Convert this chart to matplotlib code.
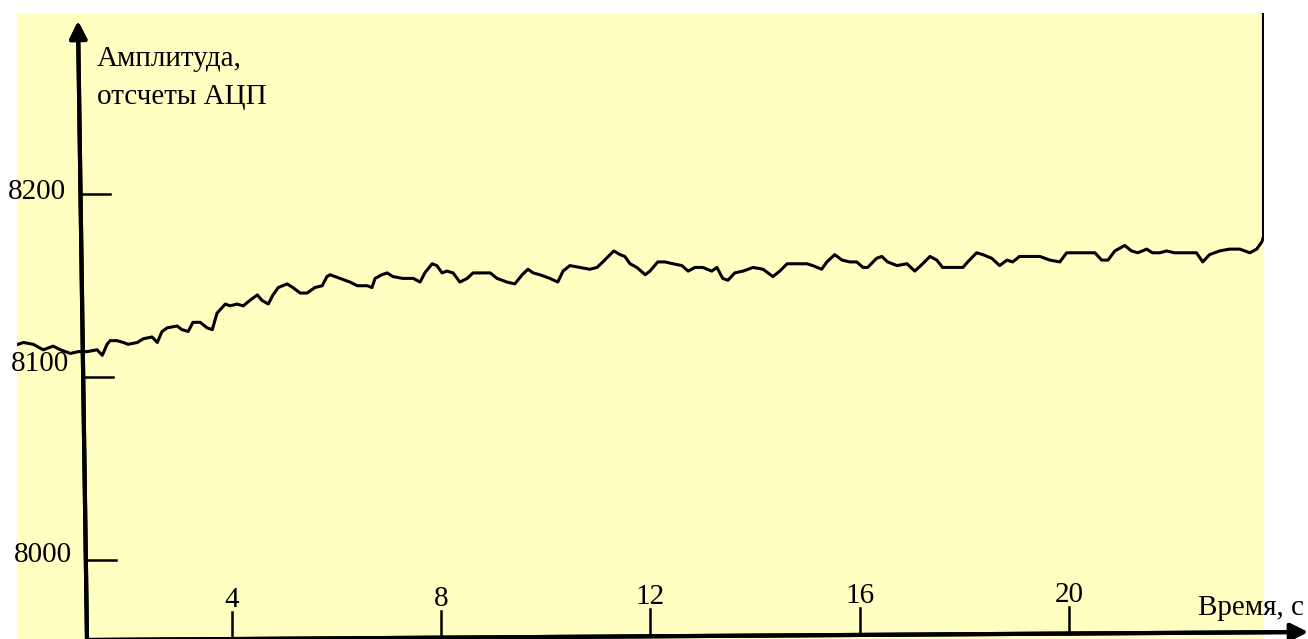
import matplotlib.pyplot as plt
import matplotlib.transforms as mtransforms
from matplotlib.lines import Line2D

plt.rcParams['font.family'] = ['Liberation Serif', 'DejaVu Serif']

# signal: time (s) and amplitude (ADC counts)
time_s = [
    -0.08, 0.02, 0.21, 0.40, 0.59, 0.73, 0.92, 1.07, 1.24, 1.43,
    1.53, 1.62, 1.68, 1.81, 1.93, 2.02, 2.20, 2.31, 2.48, 2.58,
    2.67, 2.77, 2.96, 3.05, 3.17, 3.26, 3.40, 3.53, 3.63, 3.72,
    3.88, 3.97, 4.10, 4.22, 4.35, 4.49, 4.58, 4.70, 4.79, 4.89,
    5.06, 5.17, 5.31, 5.44, 5.59, 5.73, 5.82, 5.88, 6.07, 6.26,
    6.40, 6.59, 6.68, 6.74, 6.87, 6.97, 7.08, 7.27, 7.47, 7.60,
    7.69, 7.83, 7.92, 8.02, 8.11, 8.23, 8.36, 8.50, 8.61, 8.80,
    8.94, 9.07, 9.26, 9.41, 9.55, 9.66, 9.76, 9.89, 10.08, 10.23,
    10.33, 10.46, 10.65, 10.84, 10.98, 11.09, 11.23, 11.30, 11.42, 11.51,
    11.61, 11.74, 11.90, 11.99, 12.14, 12.28, 12.43, 12.60, 12.72, 12.85,
    13.00, 13.17, 13.27, 13.38, 13.48, 13.61, 13.77, 13.96, 14.15, 14.34,
    14.47, 14.61, 14.80, 14.99, 15.10, 15.27, 15.37, 15.52, 15.66, 15.81,
    15.94, 16.06, 16.15, 16.32, 16.42, 16.53, 16.71, 16.90, 17.05, 17.20,
    17.34, 17.47, 17.58, 17.78, 17.97, 18.06, 18.23, 18.35, 18.52, 18.67,
    18.81, 18.92, 19.05, 19.25, 19.44, 19.63, 19.82, 19.95, 20.14, 20.33,
    20.49, 20.62, 20.74, 20.87, 21.06, 21.19, 21.31, 21.48, 21.59, 21.73,
    21.86, 22.01, 22.24, 22.43, 22.55, 22.68, 22.87, 23.06, 23.26, 23.45,
    23.58, 23.68, 23.71, 23.71,
]
amplitude = [
    8118, 8119, 8118, 8115, 8117, 8115, 8113, 8114, 8114, 8115,
    8112, 8118, 8120, 8120, 8119, 8118, 8119, 8121, 8122, 8119,
    8125, 8127, 8128, 8126, 8125, 8130, 8130, 8127, 8126, 8135,
    8140, 8139, 8140, 8139, 8142, 8145, 8142, 8140, 8145, 8149,
    8151, 8149, 8146, 8146, 8149, 8150, 8155, 8156, 8154, 8152,
    8150, 8150, 8149, 8154, 8156, 8157, 8155, 8154, 8154, 8152,
    8157, 8162, 8161, 8157, 8158, 8157, 8152, 8154, 8157, 8157,
    8157, 8154, 8152, 8151, 8156, 8159, 8157, 8156, 8154, 8152,
    8158, 8161, 8160, 8159, 8160, 8163, 8167, 8169, 8167, 8166,
    8162, 8160, 8156, 8158, 8163, 8163, 8162, 8161, 8158, 8160,
    8160, 8158, 8160, 8154, 8153, 8157, 8158, 8160, 8159, 8155,
    8158, 8162, 8162, 8162, 8161, 8159, 8163, 8167, 8164, 8163,
    8163, 8160, 8160, 8165, 8166, 8163, 8161, 8162, 8158, 8162,
    8166, 8164, 8160, 8160, 8160, 8163, 8168, 8167, 8165, 8161,
    8164, 8163, 8166, 8166, 8166, 8164, 8163, 8168, 8168, 8168,
    8168, 8164, 8164, 8169, 8172, 8169, 8168, 8170, 8168, 8168,
    8169, 8168, 8168, 8168, 8163, 8167, 8169, 8170, 8170, 8168,
    8170, 8174, 8177, 8400,
]

x_ticks = [4, 8, 12, 16, 20]
y_ticks = [8000, 8100, 8200]
y_label = 'Амплитуда,\nотсчеты АЦП'
x_label = 'Время, с'

W, H = 1308, 639
fig = plt.figure(figsize=(W / 100, H / 100), dpi=100)
fig.patch.set_facecolor('white')


def fx(px):
    return px / W


def fy(py):
    return 1 - py / H


ax = fig.add_axes([fx(17), 0, fx(1264) - fx(17), 1 - 13 / H])
ax.set_facecolor('#ffffc2')
for s in ax.spines.values():
    s.set_visible(False)
ax.set_xticks([])
ax.set_yticks([])
ax.set_xlim(-0.1, 23.72)
ax.set_ylim(7957, 8299)

ax.plot(time_s, amplitude, color='black', lw=2.2)

# axes drawn as arrows (slightly skewed like the original)
arrow = dict(arrowstyle='-|>', lw=3, color='black', mutation_scale=26,
             shrinkA=0, shrinkB=0)
fig.add_artist(plt.annotate('', xy=(fx(78), fy(21)), xytext=(fx(87), fy(640)),
                            xycoords='figure fraction', textcoords='figure fraction',
                            arrowprops=arrow, annotation_clip=False))
fig.add_artist(plt.annotate('', xy=(fx(1308), fy(632)), xytext=(fx(87), fy(640)),
                            xycoords='figure fraction', textcoords='figure fraction',
                            arrowprops=arrow, annotation_clip=False))

fig.canvas.draw()

# y ticks (tick start on the skewed axis, label lift in px)
ytr = mtransforms.blended_transform_factory(fig.transFigure, ax.transData)
y_starts = {8000: 88, 8100: 85, 8200: 82}
y_lift = {8000: 5, 8100: 13, 8200: 2}
for v in y_ticks:
    x0 = y_starts[v]
    fig.add_artist(Line2D([fx(x0), fx(x0 + 28)], [v, v], transform=ytr,
                          color='black', lw=1.8))
    fig.text(fx(x0 - 16), v, str(v),
             transform=mtransforms.offset_copy(ytr, fig=fig, x=0, y=y_lift[v], units='dots'),
             ha='right', va='center', fontsize=21)

# x ticks
for t in x_ticks:
    xpix = ax.transData.transform((t, 0))[0]
    ybase = 640 - 8 * (xpix - 87) / 1221
    fig.add_artist(Line2D([fx(xpix), fx(xpix)], [fy(ybase), fy(ybase - 27)],
                          color='black', lw=1.8))
    fig.text(fx(xpix), fy(ybase - 32), str(t), ha='center', va='baseline',
             fontsize=21)

fig.text(fx(97), fy(78), y_label, ha='left', va='center', fontsize=21,
         linespacing=1.55)
fig.text(fx(1198), fy(615), x_label, ha='left', va='baseline', fontsize=21)

fig.savefig('out.png', dpi=100)
